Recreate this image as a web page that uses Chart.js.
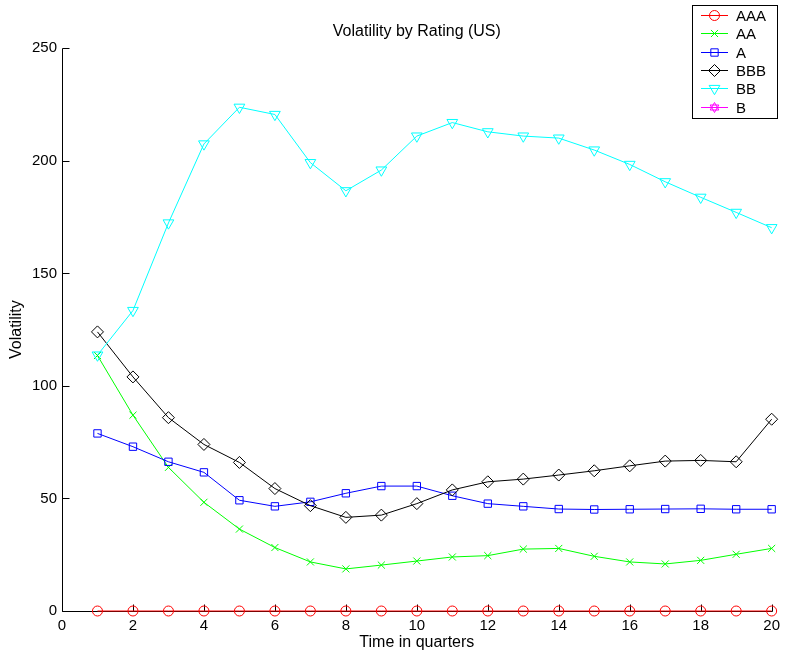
<!DOCTYPE html>
<html>
<head>
<meta charset="utf-8">
<title>Volatility by Rating (US)</title>
<script src="https://cdn.jsdelivr.net/npm/chart.js@4.4.0/dist/chart.umd.min.js"></script>
<style>
    html, body { margin: 0; padding: 0; background: #fff; }
    canvas { display: block; }
</style>
</head>
<body>
<canvas id="chartVolatility" width="786" height="653"></canvas>
<script>
const quarters = [1, 2, 3, 4, 5, 6, 7, 8, 9, 10, 11, 12, 13, 14, 15, 16, 17, 18, 19, 20];
const volAAA = [0, 0, 0, 0, 0, 0, 0, 0, 0, 0, 0, 0, 0, 0, 0, 0, 0, 0, 0, 0];
const volAA = [113.5, 87, 63.8, 48.3, 36.4, 28.2, 21.8, 18.7, 20.4, 22.2, 24, 24.6, 27.5, 27.8, 24.3, 21.8, 20.9, 22.5, 25.2, 27.8];
const volA = [78.9, 73, 66.3, 61.6, 49.2, 46.5, 48.5, 52.3, 55.5, 55.5, 51.2, 47.7, 46.5, 45.3, 45.1, 45.2, 45.3, 45.4, 45.2, 45.2];
const volBBB = [124, 104, 85.9, 74, 66, 54.4, 46.8, 41.6, 42.6, 47.7, 53.8, 57.4, 58.6, 60.4, 62.3, 64.5, 66.6, 66.9, 66.3, 85.2];
const volBB = [113.7, 133.5, 172.4, 207.5, 223.8, 220.6, 199.2, 186.7, 195.9, 211, 217, 212.9, 211, 210.1, 204.8, 198.4, 190.7, 183.8, 177.1, 170.3];
const volB = [null, null, null, null, null, null, null, null, null, null, null, null, null, null, null, null, null, null, null, null];
const xTicks = [0, 2, 4, 6, 8, 10, 12, 14, 16, 18, 20];
const yTicks = [0, 50, 100, 150, 200, 250];

const FONT = "'Liberation Sans', Arial, Helvetica, sans-serif";

function toPoints(values) {
    return values.map((v, i) => ({ x: quarters[i], y: v }));
}

function series(label, values, color, marker, radius, order) {
    return {
        label: label,
        data: toPoints(values),
        borderColor: color,
        borderWidth: 1,
        pointStyle: marker === 'triangleDown' ? 'triangle' : marker,
        pointRotation: marker === 'triangleDown' ? 180 : 0,
        pointRadius: radius,
        pointBorderWidth: 1,
        pointBorderColor: color,
        pointBackgroundColor: 'rgba(0,0,0,0)',
        marker: marker,
        tension: 0,
        clip: false,
        order: order,
    };
}

// draws one unfilled marker, used by the boxed legend
function drawMarker(ctx, marker, x, y, r) {
    ctx.beginPath();
    if (marker === 'circle') {
        ctx.arc(x, y, r, 0, Math.PI * 2);
    } else if (marker === 'crossRot') {
        const d = r * Math.SQRT1_2;
        ctx.moveTo(x - d, y - d); ctx.lineTo(x + d, y + d);
        ctx.moveTo(x - d, y + d); ctx.lineTo(x + d, y - d);
    } else if (marker === 'rect') {
        const s = r * Math.SQRT1_2;
        ctx.rect(x - s, y - s, 2 * s, 2 * s);
    } else if (marker === 'rectRot') {
        ctx.moveTo(x, y - r); ctx.lineTo(x + r, y); ctx.lineTo(x, y + r); ctx.lineTo(x - r, y);
        ctx.closePath();
    } else if (marker === 'triangleDown') {
        const h = r * Math.sqrt(3) / 2;
        ctx.moveTo(x, y + r); ctx.lineTo(x + h, y - r / 2); ctx.lineTo(x - h, y - r / 2);
        ctx.closePath();
    } else if (marker === 'hexagram') {
        const h = r * Math.sqrt(3) / 2;
        ctx.moveTo(x, y - r); ctx.lineTo(x + h, y + r / 2); ctx.lineTo(x - h, y + r / 2);
        ctx.closePath();
        ctx.moveTo(x, y + r); ctx.lineTo(x + h, y - r / 2); ctx.lineTo(x - h, y - r / 2);
        ctx.closePath();
    }
    ctx.stroke();
}

const matlabAxes = {
    id: 'matlabAxes',
    beforeDatasetsDraw(chart) {
        const { ctx, chartArea: a, scales: { x, y } } = chart;
        const left = Math.round(a.left) + 0.5;
        const bottom = Math.round(a.bottom) + 0.5;
        ctx.save();
        ctx.strokeStyle = '#000';
        ctx.lineWidth = 1;
        ctx.beginPath();
        ctx.moveTo(left, Math.round(a.top) + 0.5);
        ctx.lineTo(left, bottom);
        ctx.lineTo(Math.round(a.right) + 0.5, bottom);
        xTicks.forEach(v => {
            const px = Math.round(x.getPixelForValue(v)) + 0.5;
            ctx.moveTo(px, bottom);
            ctx.lineTo(px, bottom - 7);
        });
        yTicks.forEach(v => {
            const py = Math.round(y.getPixelForValue(v)) + 0.5;
            ctx.moveTo(left, py);
            ctx.lineTo(left + 7, py);
        });
        ctx.stroke();
        ctx.restore();
    }
};

const boxLegend = {
    id: 'boxLegend',
    afterDraw(chart) {
        const ctx = chart.ctx;
        ctx.save();
        ctx.fillStyle = '#fff';
        ctx.fillRect(692, 5, 85, 113);
        ctx.strokeStyle = '#000';
        ctx.lineWidth = 1;
        ctx.strokeRect(692.5, 5.5, 85, 113);
        ctx.font = '15px ' + FONT;
        ctx.textBaseline = 'middle';
        ctx.textAlign = 'left';
        chart.data.datasets.forEach((ds, i) => {
            const yy = Math.round(14.7 + i * 18.4) + 0.5;
            ctx.strokeStyle = ds.borderColor;
            ctx.lineWidth = 1;
            ctx.beginPath();
            ctx.moveTo(701, yy);
            ctx.lineTo(728, yy);
            ctx.stroke();
            drawMarker(ctx, ds.marker, 714.5, yy, ds.pointRadius);
            ctx.fillStyle = '#000';
            ctx.fillText(ds.label, 736, yy + 1);
        });
        ctx.restore();
    }
};

function renderChart() {
    const data = {
        datasets: [
            series('AAA', volAAA, '#ff0000', 'circle', 5, 6),
            series('AA', volAA, '#00ff00', 'crossRot', 5, 5),
            series('A', volA, '#0000ff', 'rect', 5.2, 4),
            series('BBB', volBBB, '#000000', 'rectRot', 6, 3),
            series('BB', volBB, '#00ffff', 'triangleDown', 6.2, 2),
            series('B', volB, '#ff00ff', 'hexagram', 5, 1),
        ]
    };
    const config = {
        type: 'line',
        data: data,
        options: {
            responsive: false,
            animation: false,
            events: [],
            layout: {
                padding: { left: 0, right: 10, top: 0, bottom: 0 }
            },
            plugins: {
                legend: { display: false },
                tooltip: { enabled: false },
                title: {
                    display: true,
                    text: 'Volatility by Rating (US)',
                    color: '#000',
                    fullSize: false,
                    font: { family: FONT, size: 16, weight: 'normal' },
                    padding: { top: 21.5, bottom: 7.6 }
                }
            },
            scales: {
                x: {
                    type: 'linear',
                    min: 0,
                    max: 20,
                    afterBuildTicks: s => { s.ticks = xTicks.map(v => ({ value: v })); },
                    afterFit: s => { s.height = 42; },
                    grid: { display: false, drawTicks: false },
                    border: { display: false },
                    ticks: {
                        color: '#000',
                        padding: 6,
                        maxRotation: 0,
                        font: { family: FONT, size: 15 }
                    },
                    title: {
                        display: true,
                        text: 'Time in quarters',
                        color: '#000',
                        font: { family: FONT, size: 16 },
                        padding: { top: 0, bottom: 0.5 }
                    }
                },
                y: {
                    type: 'linear',
                    min: 0,
                    max: 250,
                    afterBuildTicks: s => { s.ticks = yTicks.map(v => ({ value: v })); },
                    afterFit: s => { s.width = 62; },
                    grid: { display: false, drawTicks: false },
                    border: { display: false },
                    ticks: {
                        color: '#000',
                        padding: 5,
                        font: { family: FONT, size: 15 }
                    },
                    title: {
                        display: true,
                        text: 'Volatility',
                        color: '#000',
                        font: { family: FONT, size: 16 },
                        padding: { top: 7, bottom: 0 }
                    }
                }
            }
        },
        plugins: [matlabAxes, boxLegend]
    };
    new Chart(document.getElementById('chartVolatility'), config);
}

renderChart();
</script>
</body>
</html>
